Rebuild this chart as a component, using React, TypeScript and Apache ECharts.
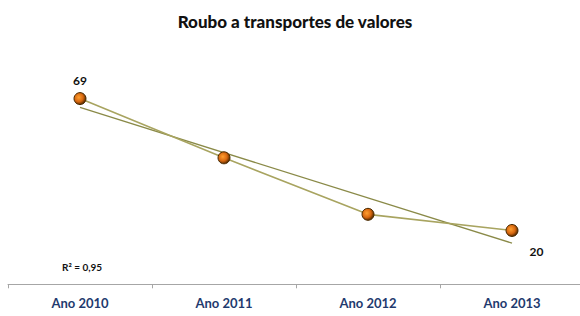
import React, { useEffect, useRef } from "react";
import * as echarts from "echarts";

const categories = ["Ano 2010", "Ano 2011", "Ano 2012", "Ano 2013"];
const values = [69, 47, 26, 20];
const trendValues: (number | null)[] = [65.7, null, null, 15.3];
const titleText = "Roubo a transportes de valores";
const r2Text = "R² = 0,95";

export default function App() {
  const ref = useRef<HTMLDivElement>(null);
  useEffect(() => {
    if (!ref.current) return;
    const chart = echarts.init(ref.current, null, { renderer: "svg" });
    const markerColor = new echarts.graphic.RadialGradient(0.4, 0.4, 0.6, [
      { offset: 0, color: "#ffa030" },
      { offset: 0.6, color: "#d86810" },
      { offset: 1, color: "#5a2c00" },
    ]);
    chart.setOption({
      animation: false,
      backgroundColor: "#ffffff",
      title: {
        text: titleText,
        left: 290,
        textAlign: "center",
        top: 8,
        textStyle: { fontFamily: "Lato", fontWeight: 900, fontSize: 17, color: "#111" },
      },
      grid: { left: 8, right: 0, top: 69, bottom: 29 },
      xAxis: {
        type: "category",
        data: categories,
        boundaryGap: true,
        axisLine: { lineStyle: { color: "#a6a6a6", width: 1 } },
        axisTick: { show: true, length: 4, lineStyle: { color: "#a6a6a6" } },
        axisLabel: {
          color: "#1f3a6e",
          fontFamily: "Lato",
          fontWeight: "bold",
          fontSize: 13,
          margin: 9,
        },
      },
      yAxis: {
        type: "value",
        min: -1,
        max: 80,
        show: false,
        splitLine: { show: false },
      },
      graphic: [
        {
          type: "text",
          left: 62,
          top: 262,
          style: {
            text: r2Text,
            fontFamily: "Lato",
            fontWeight: "bold",
            fontSize: 10,
            fill: "#111",
          },
        },
      ],
      series: [
        {
          type: "line",
          data: trendValues,
          connectNulls: true,
          symbol: "none",
          lineStyle: { color: "#8a8a48", width: 1.3 },
          z: 2,
        },
        {
          type: "line",
          data: values.map((v, i) => ({
            value: v,
            label:
              i === 0
                ? { show: true, position: "top", distance: 6 }
                : i === values.length - 1
                ? { show: true, position: "right", offset: [6, 21] }
                : { show: false },
          })),
          symbol: "circle",
          symbolSize: 12,
          itemStyle: { color: markerColor, borderColor: "#4a2a00", borderWidth: 1 },
          lineStyle: { color: "#a8a460", width: 1.6 },
          label: {
            fontFamily: "Lato",
            fontWeight: "bold",
            fontSize: 12,
            color: "#111",
          },
          z: 3,
        },
      ],
    });
    return () => chart.dispose();
  }, []);
  return (
    <div style={{ position: "fixed", left: 0, top: 0, width: 580, height: 316, overflow: "hidden" }}>
      <div ref={ref} style={{ width: 584, height: 316 }} />
    </div>
  );
}
